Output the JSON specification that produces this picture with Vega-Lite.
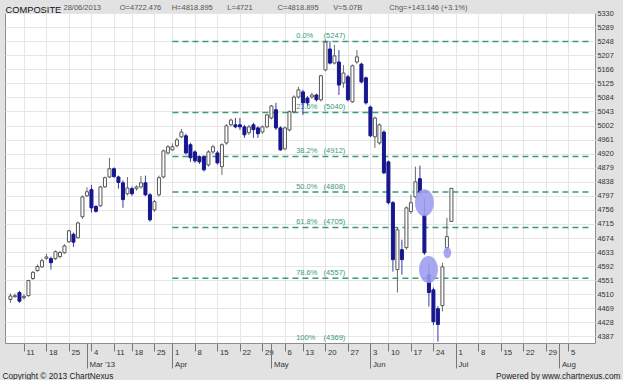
{
  "$schema": "https://vega.github.io/schema/vega-lite/v6.json",
  "width": 590,
  "height": 330,
  "autosize": {"type": "none"},
  "padding": {"left": 5, "top": 13, "right": 28, "bottom": 37},
  "background": "#e2e2e2",
  "config": {"font": "Liberation Sans", "view": {"fill": "white", "stroke": "#8c8c8c", "strokeWidth": 1}},
  "resolve": {"axis": {"x": "independent", "y": "independent"}},
  "datasets": {
    "candles": [
      {"t": -3, "o": 4495, "h": 4512, "l": 4485, "c": 4505},
      {"t": -2, "o": 4503, "h": 4512, "l": 4500, "c": 4506},
      {"t": -1, "o": 4515, "h": 4520, "l": 4485, "c": 4490},
      {"t": 0, "o": 4500, "h": 4510, "l": 4495, "c": 4504},
      {"t": 1, "o": 4506, "h": 4552, "l": 4503, "c": 4550},
      {"t": 2, "o": 4556, "h": 4578, "l": 4552, "c": 4574},
      {"t": 3, "o": 4579, "h": 4597, "l": 4576, "c": 4591},
      {"t": 4, "o": 4590, "h": 4614, "l": 4587, "c": 4608},
      {"t": 5, "o": 4615, "h": 4628, "l": 4611, "c": 4619},
      {"t": 6, "o": 4614, "h": 4620, "l": 4582, "c": 4602},
      {"t": 7, "o": 4614, "h": 4638, "l": 4610, "c": 4634},
      {"t": 8, "o": 4620, "h": 4636, "l": 4615, "c": 4632},
      {"t": 9, "o": 4631, "h": 4656, "l": 4628, "c": 4651},
      {"t": 10, "o": 4663, "h": 4698, "l": 4660, "c": 4695},
      {"t": 11, "o": 4685, "h": 4690, "l": 4648, "c": 4662},
      {"t": 12, "o": 4675, "h": 4722, "l": 4672, "c": 4718},
      {"t": 13, "o": 4736, "h": 4798, "l": 4730, "c": 4794},
      {"t": 14, "o": 4797, "h": 4822, "l": 4794, "c": 4809},
      {"t": 15, "o": 4815, "h": 4829, "l": 4748, "c": 4762},
      {"t": 16, "o": 4766, "h": 4770, "l": 4748, "c": 4752},
      {"t": 17, "o": 4768, "h": 4826, "l": 4765, "c": 4823},
      {"t": 18, "o": 4823, "h": 4853, "l": 4820, "c": 4850},
      {"t": 19, "o": 4852, "h": 4908, "l": 4849, "c": 4876},
      {"t": 20, "o": 4876, "h": 4880, "l": 4850, "c": 4853},
      {"t": 21, "o": 4852, "h": 4856, "l": 4818, "c": 4836},
      {"t": 22, "o": 4835, "h": 4842, "l": 4762, "c": 4786},
      {"t": 23, "o": 4803, "h": 4852, "l": 4798, "c": 4820},
      {"t": 24, "o": 4818, "h": 4824, "l": 4797, "c": 4803},
      {"t": 25, "o": 4818, "h": 4828, "l": 4812, "c": 4823},
      {"t": 26, "o": 4823, "h": 4855, "l": 4818, "c": 4835},
      {"t": 27, "o": 4835, "h": 4856, "l": 4796, "c": 4800},
      {"t": 28, "o": 4800, "h": 4805, "l": 4722, "c": 4727},
      {"t": 29, "o": 4756, "h": 4785, "l": 4750, "c": 4780},
      {"t": 30, "o": 4800, "h": 4856, "l": 4795, "c": 4850},
      {"t": 31, "o": 4852, "h": 4932, "l": 4848, "c": 4928},
      {"t": 32, "o": 4922, "h": 4945, "l": 4918, "c": 4940},
      {"t": 33, "o": 4931, "h": 4950, "l": 4928, "c": 4940},
      {"t": 34, "o": 4943, "h": 4966, "l": 4938, "c": 4960},
      {"t": 35, "o": 4969, "h": 4992, "l": 4965, "c": 4983},
      {"t": 36, "o": 4972, "h": 4978, "l": 4918, "c": 4922},
      {"t": 37, "o": 4946, "h": 4952, "l": 4896, "c": 4908},
      {"t": 38, "o": 4925, "h": 4930, "l": 4893, "c": 4899},
      {"t": 39, "o": 4911, "h": 4915, "l": 4890, "c": 4896},
      {"t": 40, "o": 4911, "h": 4915, "l": 4868, "c": 4873},
      {"t": 41, "o": 4887, "h": 4930, "l": 4882, "c": 4925},
      {"t": 42, "o": 4925, "h": 4946, "l": 4920, "c": 4940},
      {"t": 43, "o": 4922, "h": 4928, "l": 4888, "c": 4893},
      {"t": 44, "o": 4882, "h": 4950, "l": 4858, "c": 4946},
      {"t": 45, "o": 4951, "h": 5006, "l": 4946, "c": 5001},
      {"t": 46, "o": 5004, "h": 5022, "l": 5000, "c": 5018},
      {"t": 47, "o": 5004, "h": 5024, "l": 4994, "c": 4998},
      {"t": 48, "o": 5004, "h": 5024, "l": 4989, "c": 4998},
      {"t": 49, "o": 4998, "h": 5004, "l": 4966, "c": 4975},
      {"t": 50, "o": 4981, "h": 5004, "l": 4975, "c": 4998},
      {"t": 51, "o": 5004, "h": 5010, "l": 4966, "c": 4990},
      {"t": 52, "o": 4995, "h": 5000, "l": 4966, "c": 4978},
      {"t": 53, "o": 4983, "h": 5002, "l": 4978, "c": 4998},
      {"t": 54, "o": 4998, "h": 5036, "l": 4994, "c": 5033},
      {"t": 55, "o": 5024, "h": 5062, "l": 5020, "c": 5059},
      {"t": 56, "o": 5048, "h": 5068, "l": 4989, "c": 4995},
      {"t": 57, "o": 4995, "h": 5000, "l": 4928, "c": 4931},
      {"t": 58, "o": 4934, "h": 4999, "l": 4930, "c": 4995},
      {"t": 59, "o": 4989, "h": 5046, "l": 4985, "c": 5042},
      {"t": 60, "o": 5042, "h": 5090, "l": 5038, "c": 5085},
      {"t": 61, "o": 5085, "h": 5115, "l": 5080, "c": 5106},
      {"t": 62, "o": 5100, "h": 5106, "l": 5033, "c": 5068},
      {"t": 63, "o": 5082, "h": 5088, "l": 5060, "c": 5068},
      {"t": 64, "o": 5085, "h": 5098, "l": 5080, "c": 5091},
      {"t": 65, "o": 5091, "h": 5095, "l": 5072, "c": 5077},
      {"t": 66, "o": 5077, "h": 5150, "l": 5072, "c": 5147},
      {"t": 67, "o": 5164, "h": 5251, "l": 5160, "c": 5245},
      {"t": 68, "o": 5225, "h": 5247, "l": 5180, "c": 5184},
      {"t": 69, "o": 5184, "h": 5237, "l": 5180, "c": 5205},
      {"t": 70, "o": 5187, "h": 5222, "l": 5091, "c": 5120},
      {"t": 71, "o": 5126, "h": 5178, "l": 5112, "c": 5155},
      {"t": 72, "o": 5144, "h": 5150, "l": 5072, "c": 5077},
      {"t": 73, "o": 5071, "h": 5180, "l": 5068, "c": 5176},
      {"t": 74, "o": 5187, "h": 5222, "l": 5182, "c": 5202},
      {"t": 75, "o": 5181, "h": 5185, "l": 5125, "c": 5129},
      {"t": 76, "o": 5141, "h": 5145, "l": 5063, "c": 5068},
      {"t": 77, "o": 5056, "h": 5060, "l": 4968, "c": 4972},
      {"t": 78, "o": 4969, "h": 5028, "l": 4937, "c": 5024},
      {"t": 79, "o": 4951, "h": 5008, "l": 4946, "c": 5004},
      {"t": 80, "o": 4983, "h": 4988, "l": 4860, "c": 4864},
      {"t": 81, "o": 4896, "h": 4900, "l": 4772, "c": 4777},
      {"t": 82, "o": 4777, "h": 4782, "l": 4576, "c": 4611},
      {"t": 83, "o": 4582, "h": 4705, "l": 4515, "c": 4698},
      {"t": 84, "o": 4640, "h": 4669, "l": 4567, "c": 4611},
      {"t": 85, "o": 4646, "h": 4766, "l": 4640, "c": 4762},
      {"t": 86, "o": 4751, "h": 4800, "l": 4745, "c": 4777},
      {"t": 87, "o": 4794, "h": 4882, "l": 4790, "c": 4838},
      {"t": 88, "o": 4847, "h": 4885, "l": 4800, "c": 4806},
      {"t": 89, "o": 4742, "h": 4790, "l": 4625, "c": 4631},
      {"t": 90, "o": 4567, "h": 4600, "l": 4474, "c": 4515},
      {"t": 91, "o": 4523, "h": 4530, "l": 4420, "c": 4430},
      {"t": 92, "o": 4468, "h": 4475, "l": 4372, "c": 4422},
      {"t": 93, "o": 4477, "h": 4602, "l": 4460, "c": 4590},
      {"t": 94, "o": 4646, "h": 4733, "l": 4631, "c": 4678},
      {"t": 95, "o": 4722.476, "h": 4818.895, "l": 4721, "c": 4818.895}
    ],
    "fib": [
      {"pct": "0.0%", "val": "(5247)", "level": 5247},
      {"pct": "23.6%", "val": "(5040)", "level": 5040},
      {"pct": "38.2%", "val": "(4912)", "level": 4912},
      {"pct": "50.0%", "val": "(4808)", "level": 4808},
      {"pct": "61.8%", "val": "(4705)", "level": 4705},
      {"pct": "78.6%", "val": "(4557)", "level": 4557},
      {"pct": "100%", "val": "(4369)", "level": 4369}
    ],
    "bigmarks": [
      {"t": 89, "v": 4777},
      {"t": 89.9, "v": 4582}
    ],
    "smallmarks": [
      {"t": 94.1, "v": 4631}
    ]
  },
  "layer": [
    {
      "data": {"name": "fib"},
      "transform": [{"filter": "datum.level > 4369"}],
      "mark": {"type": "rule", "strokeDash": [6, 4], "strokeWidth": 1.5, "color": "#379c79"},
      "encoding": {
        "x": {"datum": 33, "type": "quantitative", "scale": {"domain": [-3.1, 125.8], "nice": false, "zero": false},
          "axis": {
            "orient": "bottom",
            "values": [0,5,10,15,20,24,29,33,38,43,48,53,58,62,67,72,77,81,86,91,96,101,106,111,116,121],
            "labelExpr": "['11','18','25','4','11','18','25','1','8','15','22','29','6','13','20','27','3','10','17','24','1','8','15','22','29','5'][indexof([0,5,10,15,20,24,29,33,38,43,48,53,58,62,67,72,77,81,86,91,96,101,106,111,116,121], datum.value)]",
            "labelAlign": "left", "labelBaseline": "top", "labelOffset": 2, "labelPadding": -3,
            "labelFontSize": 7.8, "labelColor": "#333", "labelOverlap": false, "labelFlush": false, "labelBound": false,
            "tickSize": 8, "tickColor": "#777", "domain": false,
            "grid": true, "gridColor": "#e6e6e6",
            "title": "Copyright © 2013 ChartNexus", "titleX": -3, "titleY": 35, "titleAlign": "left", "titleBaseline": "alphabetic",
            "titleFontSize": 8.3, "titleFontWeight": "normal", "titleColor": "#222", "titleLimit": 1000
          }},
        "x2": {"datum": 125.8},
        "y": {"field": "level", "type": "quantitative", "scale": {"domain": [4368, 5330], "nice": false, "zero": false},
          "axis": {
            "orient": "right",
            "values": [4387,4428,4469,4510,4551,4592,4633,4674,4715,4756,4797,4838,4879,4920,4961,5002,5043,5084,5125,5166,5207,5248,5289,5330],
            "format": "d",
            "labelFontSize": 7.3, "labelColor": "#333", "labelPadding": 2, "ticks": false, "domain": false,
            "labelOverlap": false, "labelBound": false, "labelFlush": false,
            "grid": true, "gridColor": "#e6e6e6",
            "title": "28/06/2013\u00a0\u00a0\u00a0\u00a0\u00a0\u00a0\u00a0\u00a0\u00a0O=4722.476\u00a0\u00a0\u00a0\u00a0\u00a0H=4818.895\u00a0\u00a0\u00a0\u00a0\u00a0\u00a0\u00a0L=4721\u00a0\u00a0\u00a0\u00a0\u00a0\u00a0\u00a0\u00a0\u00a0\u00a0\u00a0\u00a0C=4818.895\u00a0\u00a0\u00a0\u00a0\u00a0\u00a0\u00a0V=5.07B\u00a0\u00a0\u00a0\u00a0\u00a0\u00a0\u00a0\u00a0\u00a0\u00a0\u00a0\u00a0\u00a0Chg=+143.146 (+3.1%)",
            "titleX": -532, "titleY": -3.5, "titleAngle": 0, "titleAlign": "left", "titleBaseline": "alphabetic",
            "titleFontSize": 7.5, "titleFontWeight": "normal", "titleColor": "#555", "titleLimit": 1000
          }}
      }
    },
    {
      "data": {"name": "fib"},
      "mark": {"type": "text", "align": "left", "baseline": "bottom", "dy": -1, "fontSize": 7.5, "color": "#3a9a75"},
      "encoding": {
        "x": {"datum": 60.5, "type": "quantitative", "scale": {"domain": [-3.1, 125.8], "nice": false, "zero": false},
          "axis": {
            "orient": "bottom",
            "values": [14, 33, 55, 77, 96, 119],
            "labelExpr": "[\"Mar '13\",'Apr','May','Jun','Jul','Aug'][indexof([14,33,55,77,96,119], datum.value)]",
            "labelAlign": "left", "labelBaseline": "top", "labelOffset": 2, "labelPadding": -8,
            "labelFontSize": 7.8, "labelColor": "#333", "labelOverlap": false, "labelFlush": false, "labelBound": false,
            "tickSize": 25, "tickColor": "#777", "domain": false, "grid": false,
            "title": "Powered by www.chartnexus.com", "titleX": 615, "titleY": 35, "titleAlign": "right", "titleBaseline": "alphabetic",
            "titleFontSize": 8.3, "titleFontWeight": "normal", "titleColor": "#222", "titleLimit": 1000
          }},
        "y": {"field": "level", "type": "quantitative", "scale": {"domain": [4368, 5330], "nice": false, "zero": false},
          "axis": {
            "orient": "left", "labels": false, "ticks": false, "domain": false, "grid": false,
            "title": "COMPOSITE", "titleX": 0, "titleY": -1, "titleAngle": 0, "titleAlign": "left", "titleBaseline": "alphabetic",
            "titleFontSize": 9.3, "titleFontWeight": "normal", "titleColor": "#111"
          }},
        "text": {"field": "pct"}
      }
    },
    {
      "data": {"name": "fib"},
      "mark": {"type": "text", "align": "left", "baseline": "bottom", "dy": -1, "fontSize": 7.5, "color": "#3a9a75"},
      "encoding": {
        "x": {"datum": 66.6, "type": "quantitative", "scale": {"domain": [-3.1, 125.8], "nice": false, "zero": false}, "axis": null},
        "y": {"field": "level", "type": "quantitative", "scale": {"domain": [4368, 5330], "nice": false, "zero": false}, "axis": null},
        "text": {"field": "val"}
      }
    },
    {
      "data": {"name": "candles"},
      "transform": [{"filter": "datum.c >= datum.o"}],
      "mark": {"type": "rule", "color": "#6a6a6a", "strokeWidth": 1},
      "encoding": {
        "x": {"field": "t", "type": "quantitative", "scale": {"domain": [-3.1, 125.8], "nice": false, "zero": false}, "axis": null},
        "y": {"field": "l", "type": "quantitative", "scale": {"domain": [4368, 5330], "nice": false, "zero": false}, "axis": null},
        "y2": {"field": "h"}
      }
    },
    {
      "data": {"name": "candles"},
      "transform": [{"filter": "datum.c < datum.o"}],
      "mark": {"type": "rule", "color": "#3a3aa8", "strokeWidth": 1},
      "encoding": {
        "x": {"field": "t", "type": "quantitative", "scale": {"domain": [-3.1, 125.8], "nice": false, "zero": false}, "axis": null},
        "y": {"field": "l", "type": "quantitative", "scale": {"domain": [4368, 5330], "nice": false, "zero": false}, "axis": null},
        "y2": {"field": "h"}
      }
    },
    {
      "data": {"name": "candles"},
      "transform": [{"filter": "datum.c >= datum.o"}],
      "mark": {"type": "bar", "size": 3, "fill": "white", "stroke": "#555555", "strokeWidth": 1},
      "encoding": {
        "x": {"field": "t", "type": "quantitative", "scale": {"domain": [-3.1, 125.8], "nice": false, "zero": false}, "axis": null},
        "y": {"field": "o", "type": "quantitative", "scale": {"domain": [4368, 5330], "nice": false, "zero": false}, "axis": null},
        "y2": {"field": "c"}
      }
    },
    {
      "data": {"name": "candles"},
      "transform": [{"filter": "datum.c < datum.o"}],
      "mark": {"type": "bar", "size": 3, "fill": "#16168f", "stroke": "#16168f", "strokeWidth": 1},
      "encoding": {
        "x": {"field": "t", "type": "quantitative", "scale": {"domain": [-3.1, 125.8], "nice": false, "zero": false}, "axis": null},
        "y": {"field": "o", "type": "quantitative", "scale": {"domain": [4368, 5330], "nice": false, "zero": false}, "axis": null},
        "y2": {"field": "c"}
      }
    },
    {
      "data": {"name": "bigmarks"},
      "mark": {"type": "point", "shape": "M-0.7,0A0.7,1,0,1,1,0.7,0A0.7,1,0,1,1,-0.7,0Z", "filled": true, "size": 730, "color": "#9c9cf0", "opacity": 0.88, "strokeWidth": 0},
      "encoding": {
        "x": {"field": "t", "type": "quantitative", "scale": {"domain": [-3.1, 125.8], "nice": false, "zero": false}, "axis": null},
        "y": {"field": "v", "type": "quantitative", "scale": {"domain": [4368, 5330], "nice": false, "zero": false}, "axis": null}
      }
    },
    {
      "data": {"name": "smallmarks"},
      "mark": {"type": "point", "shape": "M-0.7,0A0.7,1,0,1,1,0.7,0A0.7,1,0,1,1,-0.7,0Z", "filled": true, "size": 121, "color": "#9c9cf0", "opacity": 0.88, "strokeWidth": 0},
      "encoding": {
        "x": {"field": "t", "type": "quantitative", "scale": {"domain": [-3.1, 125.8], "nice": false, "zero": false}, "axis": null},
        "y": {"field": "v", "type": "quantitative", "scale": {"domain": [4368, 5330], "nice": false, "zero": false}, "axis": null}
      }
    }
  ]
}
